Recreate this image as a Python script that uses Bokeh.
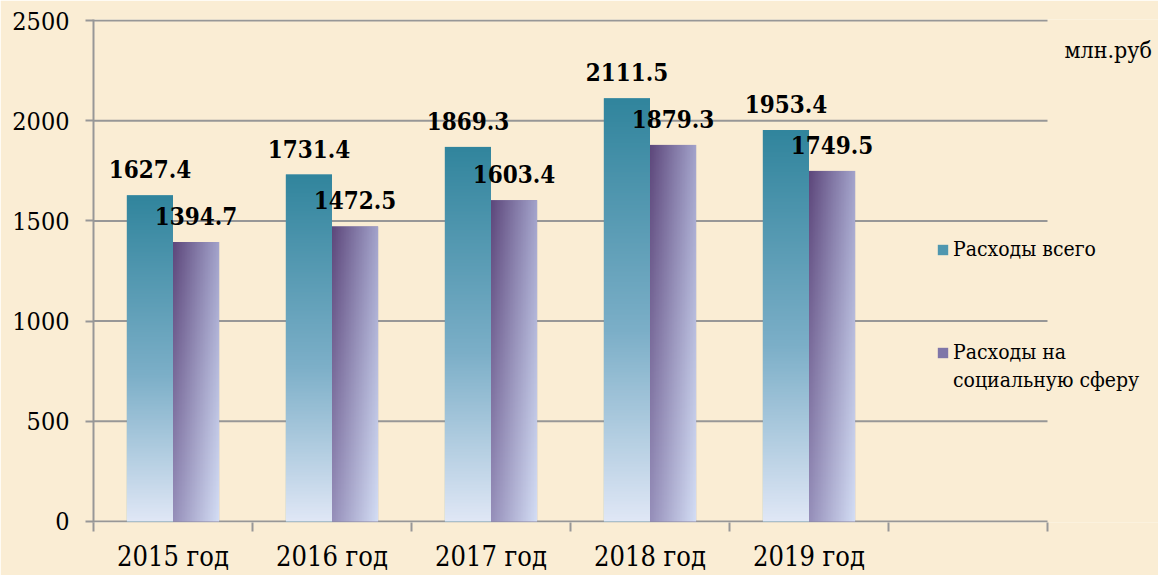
import numpy as np
from bokeh.plotting import figure
from bokeh.models import (Range1d, FixedTicker, Legend, LegendItem, Label,
                          ColumnDataSource)
from bokeh.core.properties import value
from bokeh.embed import file_html
from bokeh.resources import INLINE

# ---- data ----
years = ["2015 год", "2016 год", "2017 год", "2018 год", "2019 год"]
total = [1627.4, 1731.4, 1869.3, 2111.5, 1953.4]
social = [1394.7, 1472.5, 1603.4, 1879.3, 1749.5]
y_ticks = [0, 500, 1000, 1500, 2000, 2500]
series_names = ["Расходы всего", "Расходы на", "социальную сферу"]
unit_label = "млн.руб"

BG = "#FAEDD4"
GRID = "#979797"
FONT = "'DejaVu Serif Condensed', 'DejaVu Serif'"

n_slots = len(years) + 1
SLOT_PX = 159
extra_slots = 111 / SLOT_PX
bar_w = 0.29
centers = np.arange(len(years)) + 0.5


def to_rgba(arr):
    arr = np.clip(arr, 0, 255).astype(np.uint8)
    h, w, _ = arr.shape
    out = np.empty((h, w), dtype=np.uint32)
    view = out.view(dtype=np.uint8).reshape((h, w, 4))
    view[:, :, :3] = arr
    view[:, :, 3] = 255
    return out


rows = 256
v = np.linspace(0, 1, rows)
stops_v = [0.0, 0.45, 1.0]
stops_c = np.array([[224, 231, 246], [124, 175, 200], [49, 133, 157]], float)
teal_col = np.stack([np.interp(v, stops_v, stops_c[:, k]) for k in range(3)], axis=1)
teal_img = to_rgba(np.repeat(teal_col[:, None, :], 4, axis=1))

cols = 64
u = np.linspace(0, 1, cols)
TL = np.array([94, 72, 124], float)
TR = np.array([163, 163, 203], float)
BL = np.array([150, 143, 186], float)
BR = np.array([212, 222, 245], float)
U, V = np.meshgrid(u, v)
U = U[:, :, None]
V = V[:, :, None]
purple = (BL * (1 - U) * (1 - V) + BR * U * (1 - V) + TL * (1 - U) * V + TR * U * V)
purple_img = to_rgba(purple)

p = figure(width=1158, height=575, output_backend="svg", toolbar_location=None,
           x_range=Range1d(0, n_slots + extra_slots), y_range=Range1d(-5, 2505),
           min_border_left=93, min_border_right=0, min_border_top=19,
           min_border_bottom=53)
p.background_fill_color = BG
p.border_fill_color = BG
p.outline_line_color = None

p.segment(x0=[0] * len(y_ticks), x1=[n_slots] * len(y_ticks), y0=y_ticks, y1=y_ticks,
          line_color=GRID, line_width=2)

r_teal = p.vbar(x=list(centers - bar_w / 2), top=total, width=bar_w,
                fill_color="#4F97AF", line_color=None)
r_purp = p.vbar(x=list(centers + bar_w / 2), top=social, width=bar_w,
                fill_color="#7F76A8", line_color=None)
r_none = p.vbar(x=list(centers + bar_w / 2), top=social, width=bar_w,
                fill_alpha=0, line_alpha=0)
p.image_rgba(image=[teal_img] * len(years), x=list(centers - bar_w), y=[0] * len(years),
             dw=[bar_w] * len(years), dh=total)
p.image_rgba(image=[purple_img] * len(years), x=list(centers), y=[0] * len(years),
             dw=[bar_w] * len(years), dh=social)

lab_src = ColumnDataSource(dict(
    x=list(centers - bar_w / 2) + list(centers + bar_w / 2),
    y=total + social,
    t=["%.1f" % t for t in total] + ["%.1f" % s for s in social]))
p.text(x="x", y="y", text="t", source=lab_src, text_font=value(FONT),
       text_font_style="bold", text_font_size="24px", text_color="black",
       text_align="center", text_baseline="middle", y_offset=-26)

p.xgrid.visible = False
p.ygrid.visible = False

p.yaxis.ticker = FixedTicker(ticks=y_ticks)
p.yaxis.minor_tick_line_color = None
p.yaxis.major_tick_out = 8
p.yaxis.major_tick_in = 0
p.yaxis.major_tick_line_color = GRID
p.yaxis.major_tick_line_width = 2
p.yaxis.axis_line_color = GRID
p.yaxis.axis_line_width = 2
p.yaxis.major_label_text_font = FONT
p.yaxis.major_label_text_font_size = "25px"
p.yaxis.major_label_text_color = "black"
p.yaxis.major_label_standoff = 16

p.xaxis.ticker = FixedTicker(ticks=list(centers), minor_ticks=list(range(n_slots + 1)))
p.xaxis.major_label_overrides = {float(c): y for c, y in zip(centers, years)}
p.xaxis.major_tick_out = 0
p.xaxis.major_tick_in = 0
p.xaxis.minor_tick_out = 9
p.xaxis.minor_tick_in = 0
p.xaxis.minor_tick_line_color = GRID
p.xaxis.minor_tick_line_width = 2
p.xaxis.axis_line_color = None
p.xaxis.major_label_text_font = FONT
p.xaxis.major_label_text_font_size = "27px"
p.xaxis.major_label_text_color = "black"
p.xaxis.major_label_standoff = 9


def style_legend(leg):
    leg.glyph_width = 13
    leg.glyph_height = 13
    leg.label_standoff = 4
    leg.label_height = 28
    leg.spacing = 0
    leg.padding = 0
    leg.margin = 0
    leg.border_line_color = None
    leg.background_fill_alpha = 0
    leg.label_text_font = FONT
    leg.label_text_font_size = "21px"
    leg.label_text_color = "black"


leg1 = Legend(items=[LegendItem(label=series_names[0], renderers=[r_teal])],
              location=(843, 259))
leg2 = Legend(items=[LegendItem(label=series_names[1], renderers=[r_purp]),
                     LegendItem(label=series_names[2], renderers=[r_none])],
              location=(843, 128))
style_legend(leg1)
style_legend(leg2)
p.add_layout(leg1)
p.add_layout(leg2)

p.add_layout(Label(x=n_slots + 17 / SLOT_PX, y=2355, text=unit_label, text_font=FONT,
                   text_font_size="23px", text_color="black", text_baseline="middle"))

open("out.html", "w").write(file_html(p, INLINE))
